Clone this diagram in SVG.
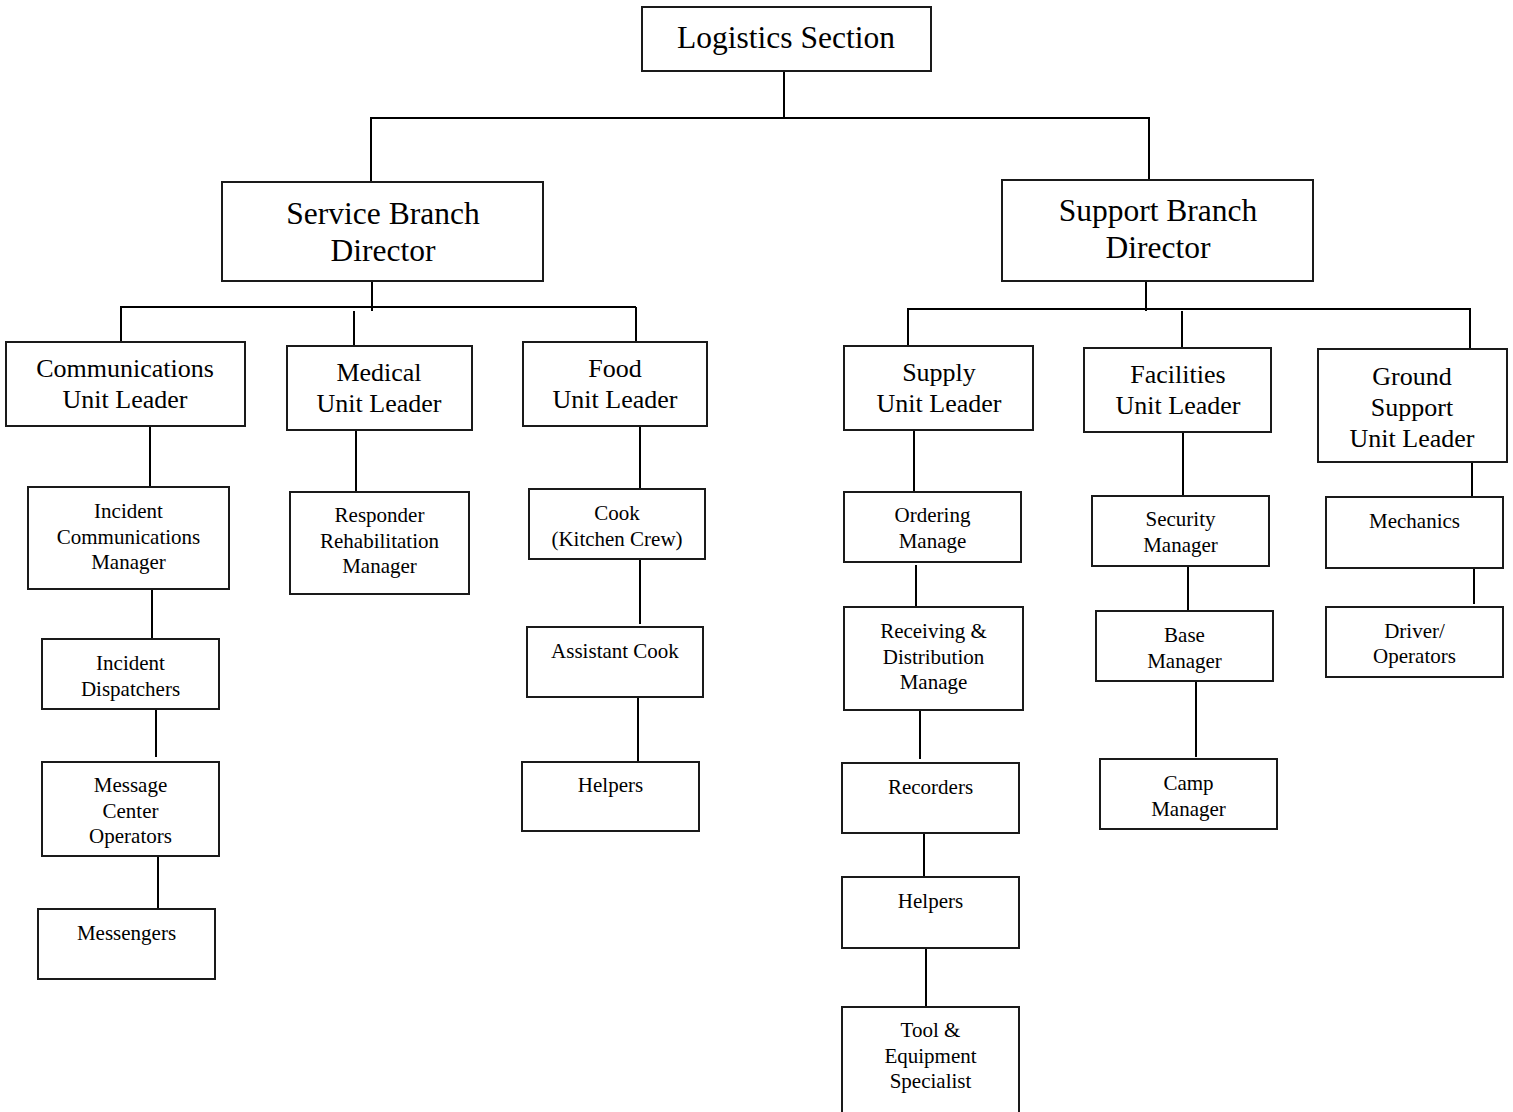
<svg xmlns="http://www.w3.org/2000/svg" width="1513" height="1112" viewBox="0 0 1513 1112">
<style>
.box{fill:#fff;stroke:#1a1a1a;stroke-width:2}
.con line{stroke:#000;stroke-width:2}
text{font-family:"Liberation Serif","Times New Roman",serif;fill:#000;text-anchor:middle}
.t1{font-size:31.5px}
.t2{font-size:26px}
.t3{font-size:21px}
</style>
<rect width="1513" height="1112" fill="#fff"/>
<g id="connectors" class="con">
<line x1="784" y1="71" x2="784" y2="118"/>
<line x1="370" y1="118" x2="1150" y2="118"/>
<line x1="371" y1="118" x2="371" y2="182"/>
<line x1="1149" y1="118" x2="1149" y2="180"/>
<line x1="372" y1="281" x2="372" y2="311"/>
<line x1="120" y1="307" x2="636" y2="307"/>
<line x1="121" y1="307" x2="121" y2="342"/>
<line x1="354" y1="311" x2="354" y2="346"/>
<line x1="636" y1="307" x2="636" y2="342"/>
<line x1="1146" y1="281" x2="1146" y2="311"/>
<line x1="907" y1="309" x2="1471" y2="309"/>
<line x1="908" y1="309" x2="908" y2="346"/>
<line x1="1182" y1="311" x2="1182" y2="348"/>
<line x1="1470" y1="309" x2="1470" y2="349"/>
<line x1="150" y1="426" x2="150" y2="488"/>
<line x1="152" y1="589" x2="152" y2="639"/>
<line x1="156" y1="707" x2="156" y2="757"/>
<line x1="158" y1="856" x2="158" y2="909"/>
<line x1="356" y1="430" x2="356" y2="492"/>
<line x1="640" y1="426" x2="640" y2="489"/>
<line x1="640" y1="559" x2="640" y2="624"/>
<line x1="638" y1="697" x2="638" y2="762"/>
<line x1="914" y1="430" x2="914" y2="492"/>
<line x1="916" y1="565" x2="916" y2="607"/>
<line x1="920" y1="710" x2="920" y2="759"/>
<line x1="924" y1="833" x2="924" y2="877"/>
<line x1="926" y1="948" x2="926" y2="1007"/>
<line x1="1183" y1="432" x2="1183" y2="496"/>
<line x1="1188" y1="566" x2="1188" y2="611"/>
<line x1="1196" y1="681" x2="1196" y2="757"/>
<line x1="1472" y1="462" x2="1472" y2="497"/>
<line x1="1474" y1="568" x2="1474" y2="604"/>
</g>
<g id="logistics"><rect class="box" x="642" y="7" width="289" height="64"/><text class="t1" x="786" y="48">Logistics Section</text></g>
<g id="service"><rect class="box" x="222" y="182" width="321" height="99"/><text class="t1" x="383" y="224">Service Branch</text><text class="t1" x="383" y="261">Director</text></g>
<g id="support"><rect class="box" x="1002" y="180" width="311" height="101"/><text class="t1" x="1158" y="221">Support Branch</text><text class="t1" x="1158" y="258">Director</text></g>
<g id="comm"><rect class="box" x="6" y="342" width="239" height="84"/><text class="t2" x="125" y="377">Communications</text><text class="t2" x="125" y="408">Unit Leader</text></g>
<g id="medical"><rect class="box" x="287" y="346" width="185" height="84"/><text class="t2" x="379" y="381">Medical</text><text class="t2" x="379" y="412">Unit Leader</text></g>
<g id="food"><rect class="box" x="523" y="342" width="184" height="84"/><text class="t2" x="615" y="377">Food</text><text class="t2" x="615" y="408">Unit Leader</text></g>
<g id="supply"><rect class="box" x="844" y="346" width="189" height="84"/><text class="t2" x="939" y="381">Supply</text><text class="t2" x="939" y="412">Unit Leader</text></g>
<g id="facilities"><rect class="box" x="1084" y="348" width="187" height="84"/><text class="t2" x="1178" y="383">Facilities</text><text class="t2" x="1178" y="414">Unit Leader</text></g>
<g id="ground"><rect class="box" x="1318" y="349" width="189" height="113"/><text class="t2" x="1412" y="385">Ground</text><text class="t2" x="1412" y="416">Support</text><text class="t2" x="1412" y="447">Unit Leader</text></g>
<g id="icm"><rect class="box" x="28" y="487" width="201" height="102"/><text class="t3" x="128.5" y="518">Incident</text><text class="t3" x="128.5" y="544">Communications</text><text class="t3" x="128.5" y="569">Manager</text></g>
<g id="dispatchers"><rect class="box" x="42" y="639" width="177" height="70"/><text class="t3" x="130.5" y="670">Incident</text><text class="t3" x="130.5" y="696">Dispatchers</text></g>
<g id="mco"><rect class="box" x="42" y="762" width="177" height="94"/><text class="t3" x="130.5" y="792">Message</text><text class="t3" x="130.5" y="818">Center</text><text class="t3" x="130.5" y="843">Operators</text></g>
<g id="messengers"><rect class="box" x="38" y="909" width="177" height="70"/><text class="t3" x="126.5" y="940">Messengers</text></g>
<g id="rehab"><rect class="box" x="290" y="492" width="179" height="102"/><text class="t3" x="379.5" y="522">Responder</text><text class="t3" x="379.5" y="548">Rehabilitation</text><text class="t3" x="379.5" y="573">Manager</text></g>
<g id="cook"><rect class="box" x="529" y="489" width="176" height="70"/><text class="t3" x="617" y="520">Cook</text><text class="t3" x="617" y="546">(Kitchen Crew)</text></g>
<g id="asstcook"><rect class="box" x="527" y="627" width="176" height="70"/><text class="t3" x="615" y="658">Assistant Cook</text></g>
<g id="foodhelpers"><rect class="box" x="522" y="762" width="177" height="69"/><text class="t3" x="610.5" y="792">Helpers</text></g>
<g id="ordering"><rect class="box" x="844" y="492" width="177" height="70"/><text class="t3" x="932.5" y="522">Ordering</text><text class="t3" x="932.5" y="548">Manage</text></g>
<g id="receiving"><rect class="box" x="844" y="607" width="179" height="103"/><text class="t3" x="933.5" y="638">Receiving &amp;</text><text class="t3" x="933.5" y="664">Distribution</text><text class="t3" x="933.5" y="689">Manage</text></g>
<g id="recorders"><rect class="box" x="842" y="763" width="177" height="70"/><text class="t3" x="930.5" y="794">Recorders</text></g>
<g id="supplyhelpers"><rect class="box" x="842" y="877" width="177" height="71"/><text class="t3" x="930.5" y="908">Helpers</text></g>
<g id="tool"><rect class="box" x="842" y="1007" width="177" height="125"/><text class="t3" x="930.5" y="1037">Tool &amp;</text><text class="t3" x="930.5" y="1063">Equipment</text><text class="t3" x="930.5" y="1088">Specialist</text></g>
<g id="security"><rect class="box" x="1092" y="496" width="177" height="70"/><text class="t3" x="1180.5" y="526">Security</text><text class="t3" x="1180.5" y="552">Manager</text></g>
<g id="base"><rect class="box" x="1096" y="611" width="177" height="70"/><text class="t3" x="1184.5" y="642">Base</text><text class="t3" x="1184.5" y="668">Manager</text></g>
<g id="camp"><rect class="box" x="1100" y="759" width="177" height="70"/><text class="t3" x="1188.5" y="790">Camp</text><text class="t3" x="1188.5" y="816">Manager</text></g>
<g id="mechanics"><rect class="box" x="1326" y="497" width="177" height="71"/><text class="t3" x="1414.5" y="528">Mechanics</text></g>
<g id="drivers"><rect class="box" x="1326" y="607" width="177" height="70"/><text class="t3" x="1414.5" y="638">Driver/</text><text class="t3" x="1414.5" y="663">Operators</text></g>
</svg>
